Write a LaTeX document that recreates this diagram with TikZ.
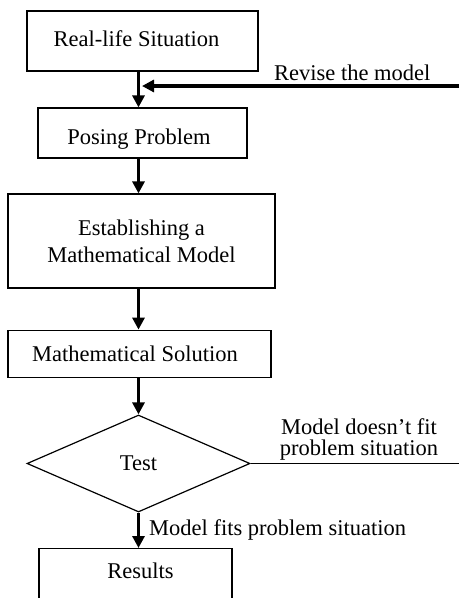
\documentclass[tikz,border=0pt]{standalone}
\usepackage{fontspec}
\setmainfont{Liberation Serif}
\usetikzlibrary{arrows.meta,shapes.geometric}
\begin{document}
\begin{tikzpicture}[x=1pt,y=-1pt,
  box/.style={draw, line width=1.2pt, inner sep=0pt, font=\fontsize{22.5}{27}\selectfont},
  arr/.style={line width=3.3pt, -{Triangle[width=12pt,length=12pt]}},
  plainline/.style={line width=1.2pt},
  lbl/.style={font=\fontsize{22.5}{27}\selectfont, inner sep=0pt}]
\useasboundingbox (0,0) rectangle (459,598);
\clip (0,0) rectangle (459,598);

\node[box, minimum width=231pt, minimum height=60pt, text height=15.4pt, text depth=5.4pt] (real) at (142.5,41) {Real-life Situation\hspace*{12pt}};
\node[box, minimum width=209pt, minimum height=50pt, text height=22pt, text depth=0pt] (pose) at (142.5,133) {Posing Problem\hspace*{7pt}};
\node[box, minimum width=267pt, minimum height=94pt, align=center] (model) at (141.5,241) {Establishing a\\Mathematical Model};
\node[box, minimum width=263pt, minimum height=47pt] (sol) at (139.5,353.7) {Mathematical Solution\hspace*{9pt}};
\node[box, diamond, minimum width=223pt, minimum height=97pt] (test) at (138.5,463.5) {Test};
\node[box, anchor=north, minimum width=193pt, minimum height=62pt, text height=15.4pt, text depth=17pt] (res) at (135.5,548) {\hspace*{10pt}Results};

\draw[arr] (real.south -| test.north) -- (pose.north -| test.north);
\draw[arr] (pose.south -| test.north) -- (model.north -| test.north);
\draw[arr] (model.south -| test.north) -- (sol.north -| test.north);
\draw[arr] (sol.south -| test.north) -- (test.north);
\draw[arr] (test.south) -- (res.north -| test.south);

\coordinate (revR) at (459,86);
\coordinate (revL) at (142,86);
\draw[arr] (revR) -- (revL);

\coordinate (failR) at (459,463.5);
\draw[plainline] (test.east) -- (failR);

\node[lbl, anchor=base west] (revlbl) at (274,80) {Revise the model};
\node[lbl, anchor=base, align=center, font=\fontsize{22.5}{20.5}\selectfont] (faillbl) at (359,455) {Model doesn't fit\\problem situation};
\node[lbl, anchor=base west] (fitlbl) at (149,535) {Model fits problem situation};
\end{tikzpicture}
\end{document}
